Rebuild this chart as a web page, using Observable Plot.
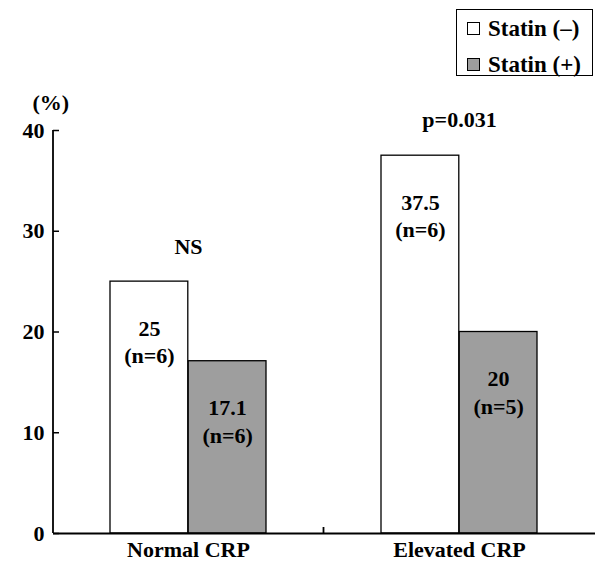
<!DOCTYPE html>
<html>
<head>
<meta charset="utf-8">
<script src="https://cdn.jsdelivr.net/npm/d3@7"></script>
<script src="https://cdn.jsdelivr.net/npm/@observablehq/plot@0.6"></script>
<style>
  html, body { margin: 0; padding: 0; background: #fff; }
  #wrap { position: relative; width: 595px; height: 562px; font-family: "Times New Roman", Times, "Liberation Serif", "Noto Serif", "DejaVu Serif", serif; font-weight: bold; }
  #legend { position: absolute; left: 456px; top: 9px; width: 135px; height: 65px; border: 1px solid #000; background: #fff; }
  .row { position: absolute; left: 10px; font-size: 23px; line-height: 23px; white-space: nowrap; }
  .sw { display: inline-block; width: 11px; height: 11px; border: 1px solid #000; margin-right: 8px; vertical-align: 1px; }
  svg text { font-family: "Times New Roman", Times, "Liberation Serif", "Noto Serif", "DejaVu Serif", serif !important; font-weight: bold; }
</style>
</head>
<body>
<div id="wrap"></div>
<script>
// ---- data ----
const groups = ["Normal CRP", "Elevated CRP"];
const seriesNames = ["Statin (\u2013)", "Statin (+)"];
const statinNeg = [25, 37.5];
const statinPos = [17.1, 20];
const nNeg = [6, 6];
const nPos = [6, 5];
const sigLabels = ["NS", "p=0.031"];
const sigAt = [28.4, 41.0];
const yTicks = [0, 10, 20, 30, 40];
const seriesFill = ["#ffffff", "#9e9e9e"];

// ---- layout ----
const W = 595, H = 562;
const mL = 53, mR = 0, mT = 130, mB = 29;
const xs = Plot.scale({x: {type: "band", domain: groups, range: [mL, W - mR], paddingInner: 0.424, paddingOuter: 0.21}});
const bw = xs.bandwidth;

const neg = groups.map((g, i) => ({group: g, value: statinNeg[i], label: `${statinNeg[i]}\n(n=${nNeg[i]})`}));
const pos = groups.map((g, i) => ({group: g, value: statinPos[i], label: `${statinPos[i]}\n(n=${nPos[i]})`}));
const sig = groups.map((g, i) => ({group: g, y: sigAt[i], text: sigLabels[i]}));

const chart = Plot.plot({
  width: W, height: H,
  marginLeft: mL, marginRight: mR, marginTop: mT, marginBottom: mB,
  style: {fontFamily: "'Times New Roman', Times, 'Liberation Serif', serif", fontWeight: "bold", background: "#fff", overflow: "visible"},
  x: {domain: groups, paddingInner: 0.424, paddingOuter: 0.21, label: null},
  y: {domain: [0, 40], label: null},
  marks: [
    Plot.barY(neg, {x: "group", y: "value", fill: seriesFill[0], stroke: "#000", strokeWidth: 1.3, insetRight: bw / 2}),
    Plot.barY(pos, {x: "group", y: "value", fill: seriesFill[1], stroke: "#000", strokeWidth: 1.3, insetLeft: bw / 2}),
    Plot.text(neg, {x: "group", y: "value", text: "label", dx: -bw / 4, dy: 59, lineAnchor: "middle", lineHeight: 1.25, fontSize: 22, fill: "#000"}),
    Plot.text(pos, {x: "group", y: "value", text: "label", dx: bw / 4, dy: 59, lineAnchor: "middle", lineHeight: 1.25, fontSize: 22, fill: "#000"}),
    Plot.text(sig, {x: "group", y: "y", text: "text", fontSize: 22, fill: "#000"}),
    Plot.text(["(%)"], {frameAnchor: "top-left", text: d => d, lineAnchor: "middle", dx: -21, dy: -28, fontSize: 22, fill: "#000"}),
    Plot.axisY({ticks: yTicks, tickSize: -6, tickPadding: 15, fontSize: 22, strokeWidth: 1.5, tickFormat: d => d}),
    Plot.axisX({tickSize: 0, tickPadding: 8, fontSize: 22}),
    Plot.ruleY([0], {stroke: "#000", strokeWidth: 1.8})
  ]
});

// axis line on the left and the separator tick, from the chart's own scales
const sx = chart.scale("x"), sy = chart.scale("y");
const svg = d3.select(chart.tagName === "svg" ? chart : chart.querySelector("svg"));
const x0 = sx.range[0];
svg.append("line").attr("x1", x0).attr("x2", x0).attr("y1", sy.apply(0)).attr("y2", sy.apply(40)).attr("stroke", "#000").attr("stroke-width", 1.8);
const mid = (sx.apply(groups[0]) + sx.apply(groups[1])) / 2 + sx.bandwidth / 2;
svg.append("line").attr("x1", mid).attr("x2", mid).attr("y1", sy.apply(0)).attr("y2", sy.apply(0) - 6).attr("stroke", "#000").attr("stroke-width", 1.8);

const wrap = document.getElementById("wrap");
wrap.appendChild(chart);

// legend
const leg = document.createElement("div");
leg.id = "legend";
seriesNames.forEach((name, i) => {
  const r = document.createElement("div");
  r.className = "row";
  r.style.top = (i === 0 ? 7 : 43) + "px";
  const sw = document.createElement("span");
  sw.className = "sw";
  sw.style.background = seriesFill[i];
  r.appendChild(sw);
  r.appendChild(document.createTextNode(name));
  leg.appendChild(r);
});
wrap.appendChild(leg);
</script>
</body>
</html>
